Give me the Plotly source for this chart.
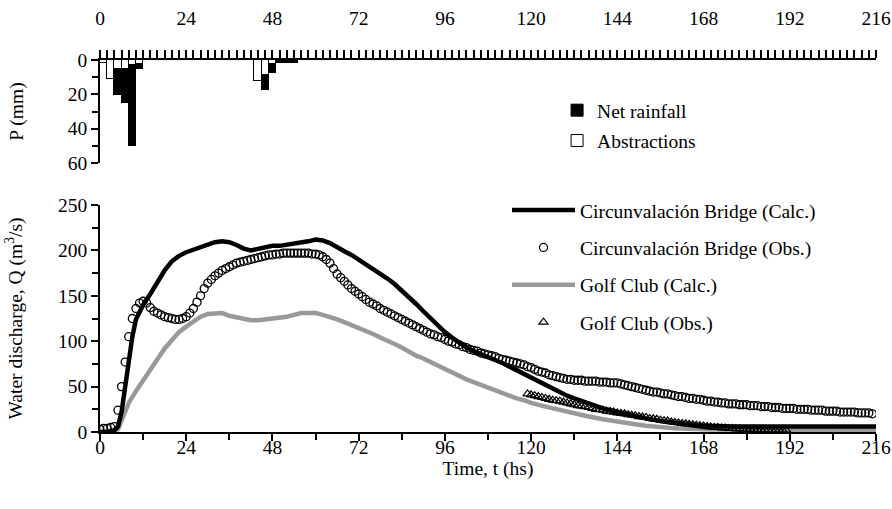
import plotly.graph_objects as go

# ---------------- Hyetograph (2-hour blocks) ----------------
rain_start = [0, 2, 4, 6, 8, 10, 43, 45, 47, 49, 51, 53]
abstractions = [2, 11, 5, 5, 3, 2.5, 12, 8.5, 2.5, 0.8, 0.6, 0.6]
net_rainfall = [0, 0, 15.5, 20, 47, 3, 0, 9, 5, 1.2, 1.0, 1.2]

# ---------------- Discharge ----------------
t_circ_calc = [0, 2, 4, 5, 6, 7, 8, 9, 10, 12, 14, 16, 18, 20, 22, 24, 26, 28, 30, 32, 34, 36, 38,
               40, 42, 44, 46, 48, 50, 52, 54, 56, 58, 60, 62, 64, 66, 68, 70, 72, 74, 76, 78, 80,
               82, 84, 86, 88, 90, 92, 94, 96, 98, 100, 102, 104, 106, 108, 110, 112, 114, 116, 118,
               120, 122, 124, 126, 128, 130, 132, 134, 136, 138, 140, 144, 148, 152, 156, 160, 164,
               168, 176, 184, 192, 200, 208, 216]
q_circ_calc = [0, 0, 2, 6, 22, 50, 80, 105, 124, 140, 152, 166, 178, 188, 194, 198, 201, 204, 207,
               209, 210, 209, 206, 202, 200, 202, 204, 205, 205, 206, 207, 208, 210, 212, 211, 208,
               203, 199, 195, 190, 185, 180, 174, 169, 163, 156, 149, 141, 133, 125, 117, 110, 104,
               98, 93, 89, 86, 83, 80, 76, 72, 68, 64, 60, 55, 51, 47, 43, 40, 37, 34, 31, 28, 26,
               22, 18, 15, 12, 10, 8, 7, 6, 6, 6, 6, 6, 6]

t_circ_obs = list(range(0, 216))
q_circ_obs = [3, 4, 4, 5, 6, 24, 50, 77, 105, 125, 136, 142, 144, 142, 137, 133, 131, 129, 127, 126,
              125, 124, 124, 125, 127, 131, 136, 143, 150, 158, 164, 168, 172, 175, 178, 180, 182,
              184, 186, 187, 188, 189, 190, 191, 192, 193, 194, 195, 195, 196, 196, 197, 197, 197,
              197, 197, 197, 197, 197, 196, 196, 195, 193, 190, 186, 180, 174, 170, 166, 162, 158,
              155, 152, 149, 146, 143, 141, 139, 136, 134, 132, 130, 128, 126, 124, 122, 120, 118,
              116, 114, 112, 110, 108, 107, 105, 104, 102, 100, 99, 97, 96, 94, 93, 91, 90, 89, 87,
              86, 85, 84, 83, 81, 80, 79, 78, 77, 76, 75, 74, 72, 71, 69, 67, 66, 65, 63, 62, 61,
              60, 59, 58, 58, 57, 57, 57, 56, 56, 56, 56, 55, 55, 55, 54, 54, 54, 53, 52, 51, 50,
              49, 48, 47, 46, 45, 44, 44, 43, 42, 42, 41, 40, 39, 39, 38, 37, 37, 36, 36, 35, 34,
              34, 33, 33, 32, 32, 31, 31, 31, 30, 30, 30, 29, 29, 29, 28, 28, 28, 27, 27, 27, 26,
              26, 26, 26, 25, 25, 25, 25, 24, 24, 24, 24, 23, 23, 23, 23, 22, 22, 22, 22, 22, 21,
              21, 21, 21, 20]

t_golf_calc = [0, 4, 5, 6, 8, 10, 12, 14, 16, 18, 20, 22, 24, 26, 28, 30, 32, 34, 36, 38, 40, 42,
               44, 46, 48, 50, 52, 54, 56, 58, 60, 62, 64, 66, 68, 70, 72, 74, 76, 78, 80, 82, 84,
               86, 88, 90, 92, 94, 96, 98, 100, 102, 104, 106, 108, 110, 112, 114, 116, 118, 120,
               124, 128, 132, 136, 140, 144, 148, 152, 156, 160, 168, 176, 184, 192, 200, 208, 216]
q_golf_calc = [0, 0, 3, 12, 32, 45, 57, 68, 80, 92, 101, 110, 116, 122, 127, 130, 131, 131, 128,
               126, 124, 123, 123, 124, 124, 125, 127, 129, 131, 131, 131, 129, 127, 124, 121, 118,
               115, 112, 108, 104, 101, 97, 93, 88, 84, 81, 77, 74, 70, 66, 62, 58, 55, 52, 48, 46,
               43, 40, 37, 35, 32, 28, 24, 20, 17, 14, 11, 9, 7, 5, 4, 3, 2, 2, 2, 2, 2, 2]

t_golf_obs = list(range(119, 192))
q_golf_obs = [42, 41, 40, 39, 38, 37, 36, 35, 34.5, 34, 33, 32, 31, 30, 29, 28.5, 28, 27, 26, 25,
              24.5, 24, 23, 22.5, 22, 21, 20.5, 20, 19, 18.5, 18, 17, 16.5, 16, 15, 14.5, 14, 13,
              12.5, 12, 11, 10.5, 10, 9.5, 9, 8.5, 8, 7.5, 7, 6.5, 6, 5.5, 5, 5, 4.5, 4.5, 4, 4,
              3.5, 3.5, 3, 3, 3, 3, 2.5, 2.5, 2.5, 2.5, 2, 2, 2, 2, 2]

x_ticks = list(range(0, 217, 24))
q_ticks = list(range(0, 251, 50))
p_ticks = [0, 20, 40, 60]

FONT = "Liberation Serif"
FS = 19.5

fig = go.Figure()

# Hyetograph bars
fig.add_trace(go.Bar(
    x=[s + 1 for s in rain_start], y=abstractions, width=2,
    marker=dict(color="white", line=dict(color="black", width=1)),
    name="Abstractions", xaxis="x2", yaxis="y2", legend="legend", legendrank=2,
    legendgroup="r2"))
fig.add_trace(go.Bar(
    x=[s + 1 for s in rain_start], y=net_rainfall, width=2,
    marker=dict(color="black", line=dict(color="black", width=1)),
    name="Net rainfall", xaxis="x2", yaxis="y2", legend="legend", legendrank=1,
    legendgroup="r1"))

# Discharge
fig.add_trace(go.Scatter(
    x=t_golf_calc, y=q_golf_calc, mode="lines", line=dict(color="#999999", width=4.5),
    name="Golf Club (Calc.)", legend="legend2", legendrank=3, legendgroup="g3"))
fig.add_trace(go.Scatter(
    x=t_golf_obs, y=q_golf_obs, mode="markers",
    marker=dict(symbol="triangle-up-open", size=8, color="black", line=dict(width=1.2)),
    name="Golf Club (Obs.)", legend="legend2", legendrank=4, legendgroup="g4"))
fig.add_trace(go.Scatter(
    x=t_circ_calc, y=q_circ_calc, mode="lines", line=dict(color="black", width=4.5),
    name="Circunvalación Bridge (Calc.)", legend="legend2", legendrank=1, legendgroup="g1"))
fig.add_trace(go.Scatter(
    x=t_circ_obs, y=q_circ_obs, mode="markers",
    marker=dict(symbol="circle-open", size=8, color="black", line=dict(width=1.3)),
    name="Circunvalación Bridge (Obs.)", legend="legend2", legendrank=2, legendgroup="g2"))

axis_common = dict(showgrid=False, zeroline=False, showline=True, linecolor="black",
                   linewidth=1.5, ticks="outside", tickcolor="black", tickwidth=1.5,
                   automargin=False,
                   tickfont=dict(family=FONT, size=FS, color="black"))
inner_common = dict(showgrid=False, zeroline=False, showline=False, ticks="inside",
                    tickcolor="black", tickwidth=1.5, showticklabels=False, automargin=False)

fig.update_layout(
    width=892, height=509,
    margin=dict(l=100, r=16, t=60, b=77),
    paper_bgcolor="white", plot_bgcolor="white",
    barmode="stack", bargap=0,
    font=dict(family=FONT, size=FS, color="black"),
    xaxis=dict(domain=[0, 1], anchor="y", range=[0, 216], tickvals=x_ticks, ticklen=7,
               ticklabelstandoff=-10,
               minor=dict(dtick=12, tick0=0, ticks="outside", ticklen=6, tickwidth=1.5,
                          tickcolor="black"),
               title=dict(text="Time, t (hs)", font=dict(family=FONT, size=FS), standoff=0),
               **axis_common),
    yaxis=dict(domain=[0, 0.6102], anchor="x", range=[0, 250], tickvals=q_ticks, ticklen=7,
               minor=dict(dtick=25, ticks="outside", ticklen=6, tickwidth=1.5, tickcolor="black"),
               title=dict(text="Water discharge, Q (m<sup>3</sup>/s)",
                          font=dict(family=FONT, size=FS), standoff=30),
               **axis_common),
    xaxis2=dict(domain=[0, 1], anchor="y2", side="top", range=[0, 216], tickvals=x_ticks,
                ticklen=8, ticklabelstandoff=17,
                minor=dict(dtick=2, tick0=0, ticks="outside", ticklen=8, tickwidth=1.5,
                           tickcolor="black"),
                **axis_common),
    yaxis2=dict(domain=[0.7231, 1], anchor="x2", range=[60, 0], tickvals=p_ticks,
                ticklen=7,
                minor=dict(tickvals=[10, 30, 50], ticks="outside", ticklen=6, tickwidth=1.5,
                           tickcolor="black"),
                title=dict(text="P (mm)", font=dict(family=FONT, size=FS), standoff=39),
                **axis_common),
    # inner halves of the crossing tick marks
    xaxis3=dict(overlaying="x", anchor="y", side="bottom", range=[0, 216], tickvals=x_ticks,
                ticklen=7, minor=dict(dtick=12, tick0=0, ticks="inside", ticklen=6,
                                      tickwidth=1.5, tickcolor="black"), **inner_common),
    yaxis3=dict(overlaying="y", anchor="x", side="left", range=[0, 250], tickvals=q_ticks,
                ticklen=7, **inner_common),
    yaxis4=dict(overlaying="y2", anchor="x2", side="left", range=[60, 0], tickvals=p_ticks,
                ticklen=7, **inner_common),
    legend=dict(x=0.589, y=0.9167, xanchor="left", yanchor="top", bgcolor="rgba(0,0,0,0)",
                font=dict(family=FONT, size=FS, color="black"), tracegroupgap=2,
                traceorder="grouped"),
    legend2=dict(x=0.5245, y=0.648, xanchor="left", yanchor="top", bgcolor="rgba(0,0,0,0)",
                 font=dict(family=FONT, size=FS, color="black"), tracegroupgap=9,
                 traceorder="grouped", itemwidth=63),
    showlegend=True,
)

fig.write_html("out.html")
